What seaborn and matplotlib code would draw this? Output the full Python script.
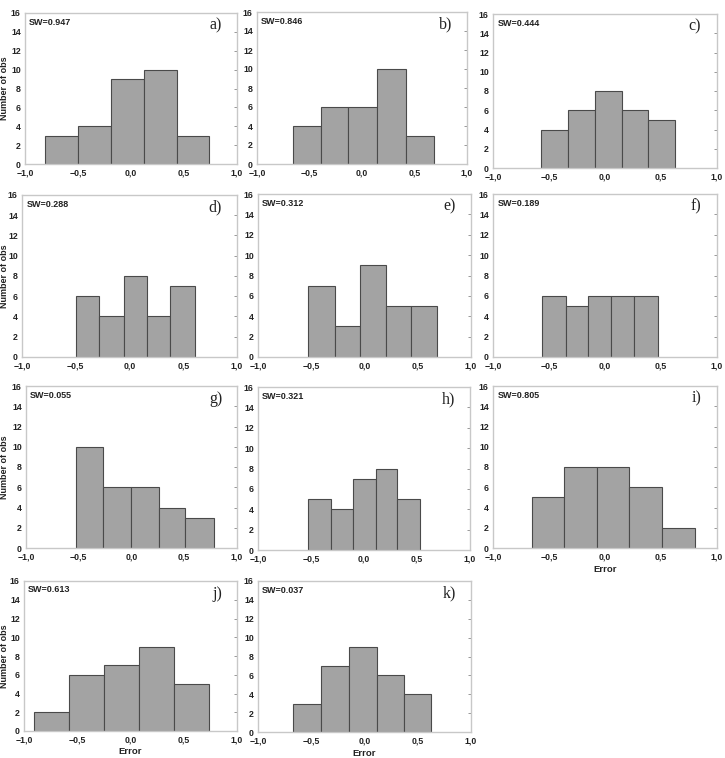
import numpy as np
import pandas as pd
import matplotlib
matplotlib.use("Agg")
import matplotlib.pyplot as plt
import seaborn as sns

sns.set_theme(style="white")
plt.rcParams['font.family'] = ['Liberation Sans', 'DejaVu Sans']

# ---- data: bin edges and counts per panel ----
labels = ["a)", "b)", "c)", "d)", "e)", "f)", "g)", "h)", "i)", "j)", "k)"]
sw_values = ["0.947", "0.846", "0.444", "0.288", "0.312", "0.189",
             "0.055", "0.321", "0.805", "0.613", "0.037"]
edges_a = [-0.81, -0.50, -0.19, 0.12, 0.43, 0.74]
counts_a = [3, 4, 9, 10, 3]
edges_b = [-0.66, -0.39, -0.13, 0.146, 0.415, 0.684]
counts_b = [4, 6, 6, 10, 3]
edges_c = [-0.573, -0.332, -0.092, 0.148, 0.386, 0.629]
counts_c = [4, 6, 8, 6, 5]
edges_d = [-0.495, -0.285, -0.054, 0.165, 0.381, 0.612]
counts_d = [6, 4, 8, 4, 7]
edges_e = [-0.526, -0.280, -0.040, 0.199, 0.439, 0.679]
counts_e = [7, 3, 9, 5, 5]
edges_f = [-0.561, -0.352, -0.149, 0.054, 0.260, 0.469]
counts_f = [6, 5, 6, 6, 6]
edges_g = [-0.527, -0.268, -0.003, 0.256, 0.511, 0.779]
counts_g = [10, 6, 6, 4, 3]
edges_h = [-0.524, -0.310, -0.100, 0.110, 0.313, 0.524]
counts_h = [5, 4, 7, 8, 5]
edges_i = [-0.652, -0.366, -0.071, 0.217, 0.512, 0.807]
counts_i = [5, 8, 8, 6, 2]
edges_j = [-0.909, -0.577, -0.249, 0.080, 0.408, 0.737]
counts_j = [2, 6, 7, 9, 5]
edges_k = [-0.673, -0.411, -0.150, 0.115, 0.371, 0.629]
counts_k = [3, 7, 9, 6, 4]

all_edges = [edges_a, edges_b, edges_c, edges_d, edges_e, edges_f,
             edges_g, edges_h, edges_i, edges_j, edges_k]
all_counts = [counts_a, counts_b, counts_c, counts_d, counts_e, counts_f,
              counts_g, counts_h, counts_i, counts_j, counts_k]
xticks = [-1.0, -0.5, 0.0, 0.5, 1.0]
xtick_labels = ["−1,0", "−0,5", "0,0", "0,5", "1,0"]
yticks = [0, 2, 4, 6, 8, 10, 12, 14, 16]

# ---- layout (pixel boxes: left, top, right, bottom) ----
W, H = 725, 758
boxes = [
    (25, 13, 237, 164), (257, 12, 467, 164), (493, 14, 717, 168),
    (22, 195, 237, 357), (258, 194, 471, 357), (493, 194, 717, 357),
    (26, 386, 237, 548), (258, 387, 470, 550), (493, 386, 717, 548),
    (24, 581, 237, 731), (258, 581, 471, 732),
]

fig = plt.figure(figsize=(W / 100, H / 100), dpi=100)
fig.patch.set_facecolor("white")

for idx in range(11):
    l, t, r, b = boxes[idx]
    ax = fig.add_axes([l / W, 1 - b / H, (r - l) / W, (b - t) / H])
    e = list(all_edges[idx])
    centers = [(e[i] + e[i + 1]) / 2 for i in range(len(e) - 1)]
    df = pd.DataFrame({"err": centers, "n": all_counts[idx]})
    sns.histplot(data=df, x="err", weights="n", bins=e, ax=ax,
                 color="#a3a3a3", edgecolor="#4a4a4a", linewidth=0.8,
                 alpha=1.0)
    ax.set_xlim(-1.0, 1.0)
    ax.set_ylim(0, 16)
    ax.set_xticks(xticks)
    ax.set_xticklabels(xtick_labels)
    ax.set_yticks(yticks)
    ax.tick_params(axis="both", which="both", direction="in", length=2,
                   width=0.6, color="#888888", labelsize=6.3,
                   top=False, right=True)
    ax.tick_params(axis="x", pad=3.2)
    ax.tick_params(axis="y", pad=3)
    for lab in ax.get_xticklabels() + ax.get_yticklabels():
        lab.set_fontweight("bold")
        lab.set_color("#222222")
    for sp in ax.spines.values():
        sp.set_color("#c8c8c8")
        sp.set_linewidth(1.0)
    ax.set_ylabel("")
    ax.set_xlabel("")
    if idx in (0, 3, 6, 9):
        ax.set_ylabel("Number of obs", fontsize=6.5, fontweight="bold",
                      color="#222222")
        ax.yaxis.set_label_coords((9 - l) / (r - l), 0.5)
    if idx in (8, 9, 10):
        ax.set_xlabel("Error", fontsize=6.8, fontweight="bold",
                      color="#222222")
        ax.xaxis.set_label_coords(0.5, -(16.5) / (b - t))
    ax.text(0.02, 0.97, "SW=" + sw_values[idx], transform=ax.transAxes,
            ha="left", va="top", fontsize=6.5, fontweight="bold",
            color="#222222")
    ax.text(0.93, 0.97, labels[idx], transform=ax.transAxes,
            ha="right", va="top", fontsize=11.5,
            family=["Liberation Serif", "DejaVu Serif"], color="#222222")

fig.savefig("out.png", dpi=100, facecolor="white")
